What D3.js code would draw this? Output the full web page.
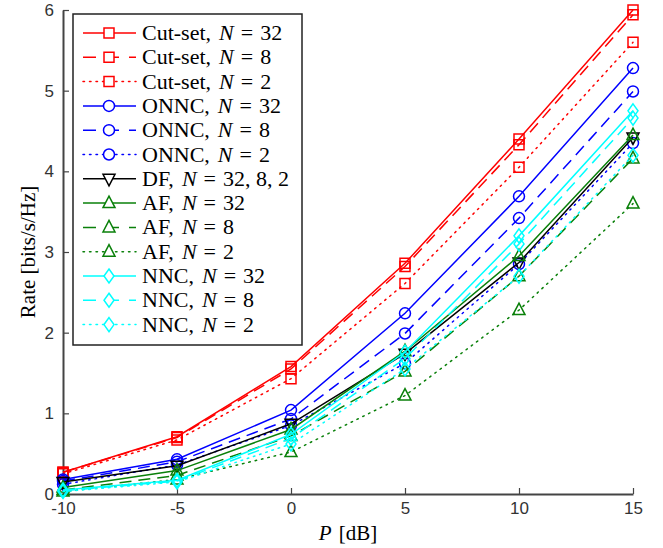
<!DOCTYPE html>
<html>
<head>
<meta charset="utf-8">
<script src="https://cdn.jsdelivr.net/npm/d3@7"></script>
<style>
  body { margin: 0; background: #fff; }
  .axis path, .axis line { stroke: #444; }
  .axis text { font-family: "Liberation Sans", Arial, sans-serif; font-size: 17px; fill: #333; }
</style>
</head>
<body>
<div id="chart"></div>
<script>
// P [dB] values on the x axis
var powerDb = [-10, -5, 0, 5, 10, 15];

// rates, bits/s/Hz
var cutset32 = [0.27, 0.71, 1.58, 2.86, 4.40, 6.00];
var cutset8  = [0.27, 0.70, 1.55, 2.82, 4.33, 5.94];
var cutset2  = [0.25, 0.67, 1.43, 2.61, 4.05, 5.60];
var onnc32   = [0.18, 0.43, 1.04, 2.24, 3.69, 5.28];
var onnc8    = [0.16, 0.40, 0.93, 1.99, 3.42, 4.99];
var onnc2    = [0.12, 0.36, 0.85, 1.62, 2.85, 4.35];
var df       = [0.15, 0.35, 0.87, 1.74, 2.87, 4.42];
var af32     = [0.08, 0.29, 0.80, 1.77, 2.95, 4.45];
var af8      = [0.05, 0.23, 0.72, 1.52, 2.70, 4.16];
var af2      = [0.03, 0.18, 0.52, 1.22, 2.28, 3.60];
var nnc32    = [0.05, 0.17, 0.74, 1.76, 3.20, 4.75];
var nnc8     = [0.04, 0.16, 0.69, 1.68, 3.10, 4.66];
var nnc2     = [0.03, 0.15, 0.62, 1.55, 2.70, 4.20];

var xTicks = [-10, -5, 0, 5, 10, 15];
var yTicks = [0, 1, 2, 3, 4, 5, 6];

// legend name, N text, values, colour, line style, marker
var series = [
  ["Cut-set", "32", cutset32, "#ff0000", "solid", "square"],
  ["Cut-set", "8", cutset8, "#ff0000", "dash", "square"],
  ["Cut-set", "2", cutset2, "#ff0000", "dot", "square"],
  ["ONNC", "32", onnc32, "#0000ff", "solid", "circle"],
  ["ONNC", "8", onnc8, "#0000ff", "dash", "circle"],
  ["ONNC", "2", onnc2, "#0000ff", "dot", "circle"],
  ["DF", "32, 8, 2", df, "#000000", "solid", "tridown"],
  ["AF", "32", af32, "#0a800a", "solid", "triup"],
  ["AF", "8", af8, "#0a800a", "dash", "triup"],
  ["AF", "2", af2, "#0a800a", "dot", "triup"],
  ["NNC", "32", nnc32, "#00ffff", "solid", "diamond"],
  ["NNC", "8", nnc8, "#00ffff", "dash", "diamond"],
  ["NNC", "2", nnc2, "#00ffff", "dot", "diamond"]
];

var W = 663, H = 548;
var margin = {top: 10, right: 30, bottom: 54, left: 63};
var width = W - margin.left - margin.right,
    height = H - margin.top - margin.bottom;
var serif = "'Liberation Serif', 'Times New Roman', serif";

var svg = d3.select("#chart").append("svg")
  .attr("width", W).attr("height", H)
  .append("g")
  .attr("transform", "translate(" + margin.left + "," + margin.top + ")");

var x = d3.scaleLinear().domain([-10, 15]).range([0, width]);
var y = d3.scaleLinear().domain([0, 6]).range([height, 0]);

var dashes = {solid: null, dash: "12,7", dot: "1.5,5"};

function markerPath(type) {
  if (type == "square") return "M-5,-5H5V5H-5Z";
  if (type == "circle") return "M-5.5,0A5.5,5.5 0 1,0 5.5,0A5.5,5.5 0 1,0 -5.5,0Z";
  if (type == "triup") return "M0,-7L6,4.5H-6Z";
  if (type == "tridown") return "M0,7L6,-4.5H-6Z";
  if (type == "diamond") return "M0,-7L5,0L0,7L-5,0Z";
}

// plain hyphen for negatives, like the original
function plain(d) { return String(d); }

var xAxis = d3.axisBottom(x).tickValues(xTicks).tickFormat(plain)
  .tickSizeInner(-6).tickSizeOuter(0).tickPadding(8);
var yAxis = d3.axisLeft(y).tickValues(yTicks).tickFormat(plain)
  .tickSizeInner(-6).tickSizeOuter(0).tickPadding(9);

svg.append("g").attr("class", "axis")
  .attr("transform", "translate(0," + height + ")")
  .call(xAxis);
svg.append("g").attr("class", "axis").call(yAxis);
svg.selectAll(".axis .domain").attr("stroke-width", 2);
svg.selectAll(".axis .tick line").attr("stroke-width", 1.2);

var line = d3.line()
  .x(function(d, i) { return x(powerDb[i]); })
  .y(function(d) { return y(d); });

series.forEach(function(s) {
  var g = svg.append("g");
  g.append("path")
    .attr("d", line(s[2]))
    .attr("fill", "none")
    .attr("stroke", s[3])
    .attr("stroke-width", 1.5)
    .attr("stroke-linecap", s[4] == "dot" ? "round" : "butt")
    .attr("stroke-dasharray", dashes[s[4]]);
  g.selectAll("path.mk")
    .data(s[2]).enter()
    .append("path").attr("class", "mk")
    .attr("d", markerPath(s[5]))
    .attr("transform", function(d, i) { return "translate(" + x(powerDb[i]) + "," + y(d) + ")"; })
    .attr("fill", "none")
    .attr("stroke", s[3])
    .attr("stroke-width", 1.5);
});

// legend
var leg = svg.append("g").attr("transform", "translate(10,4)");
leg.append("rect")
  .attr("width", 229).attr("height", 331)
  .attr("fill", "#fff")
  .attr("stroke", "#222")
  .attr("stroke-width", 1.5);

series.forEach(function(s, i) {
  var row = leg.append("g").attr("transform", "translate(0," + (19 + i * 24.3) + ")");
  row.append("line")
    .attr("x1", 10).attr("x2", 63)
    .attr("stroke", s[3]).attr("stroke-width", 1.5)
    .attr("stroke-linecap", s[4] == "dot" ? "round" : "butt")
    .attr("stroke-dasharray", s[4] == "dash" ? "13,10" : dashes[s[4]]);
  row.append("path")
    .attr("d", markerPath(s[5]))
    .attr("transform", "translate(36,0)")
    .attr("fill", "#fff").attr("stroke", s[3]).attr("stroke-width", 1.5);
  var t = row.append("text")
    .attr("x", 69).attr("y", 7)
    .style("font-family", serif)
    .style("font-size", "22px")
    .attr("fill", "#000");
  t.append("tspan").text(s[0] + ",");
  t.append("tspan").attr("dx", 8).style("font-style", "italic").text("N");
  t.append("tspan").attr("dx", 7).text("=");
  t.append("tspan").attr("dx", 7).text(s[1]);
});

svg.append("text")
  .attr("transform", "translate(-28," + (height / 2) + ") rotate(-90)")
  .attr("text-anchor", "middle")
  .style("font-family", serif)
  .style("font-size", "21px")
  .text("Rate  [bits/s/Hz]");

var xl = svg.append("text")
  .attr("x", width / 2).attr("y", height + 46)
  .attr("text-anchor", "middle")
  .style("font-family", serif)
  .style("font-size", "21px");
xl.append("tspan").style("font-style", "italic").text("P");
xl.append("tspan").attr("dx", 7).text("[dB]");
</script>
</body>
</html>
